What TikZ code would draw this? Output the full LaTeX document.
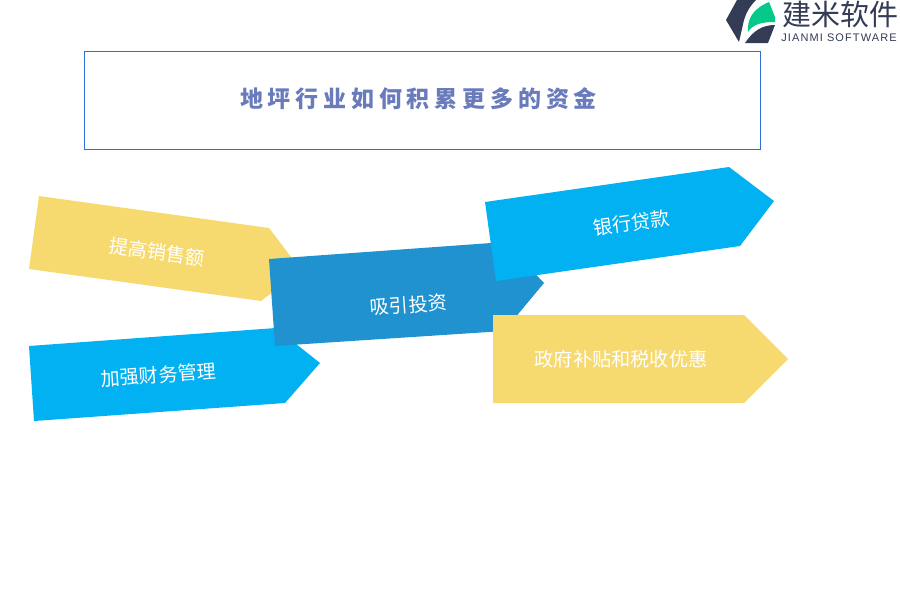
\documentclass[tikz,border=0pt]{standalone}
\usepackage{fontspec}
\setmainfont{Liberation Sans}
\newfontfamily\cjk{Noto Sans CJK SC}
\newfontfamily\cjktitle[LetterSpace=21]{Noto Sans CJK SC}
\definecolor{jmyellow}{HTML}{F6DA70}
\definecolor{jmblue}{HTML}{02B1F2}
\definecolor{jmdeep}{HTML}{2092D0}
\definecolor{jmline}{HTML}{2F6FD8}
\definecolor{jmtitle}{HTML}{6A7BBB}
\definecolor{jmdark}{HTML}{333B55}
\definecolor{jmgreen}{HTML}{05C98A}
\tikzset{arrowlabel/.style={text=white, inner sep=0pt, font=\cjk\fontsize{19.2}{19.2}\selectfont}}
\begin{document}
\begin{tikzpicture}[x=1pt,y=-1pt]
\useasboundingbox (0,0) rectangle (900,600);
\node[draw=jmline, line width=0.8pt, minimum width=676pt, minimum height=98.5pt, inner sep=0pt] (titlebox) at (422,100.5){};
\node[text=jmtitle, inner sep=0pt, font=\cjktitle\bfseries\fontsize{23}{23}\selectfont] (titletext) at (418.5,99){地坪行业如何积累更多的资金};
\fill[jmyellow] (39,196) -- (269,228) -- (301,270) -- (261,301) -- (29,269) -- cycle;
\node[arrowlabel, rotate=-8] (tigao) at (157,252){提高销售额};
\fill[jmblue] (29,346) -- (276,328) -- (320,363) -- (285,403) -- (34,421) -- cycle;
\node[arrowlabel, rotate=4] (jiaqiang) at (158.5,375){加强财务管理};
\fill[jmdeep] (269,259) -- (505,242) -- (544,283) -- (504,331) -- (275,346) -- cycle;
\node[arrowlabel, rotate=4] (xiyin) at (408.5,305){吸引投资};
\fill[jmblue] (485,202) -- (729,167) -- (774,201) -- (740,246) -- (496,281) -- cycle;
\node[arrowlabel, rotate=8] (yinhang) at (631.5,223){银行贷款};
\fill[jmyellow] (493,315) -- (744,315) -- (788,359) -- (744,403) -- (493,403) -- cycle;
\node[arrowlabel] (zhengfu) at (621,359){政府补贴和税收优惠};
% logo
\fill[jmdark] (737,0) -- (756,0) .. controls (750,6) and (746,13) .. (744,20) -- (739,42) -- (726,20) -- cycle;
\fill[jmgreen] (748,32) .. controls (747,20) and (752,9) .. (769,2) -- (775,17) -- (775,22) .. controls (762,22) and (753,24) .. (748,32) -- cycle;
\fill[jmdark] (745,43) -- (768,43) -- (775,25) .. controls (762,25) and (753,31) .. (745,43) -- cycle;
\node[text=jmdark, inner sep=0pt, font=\cjk\fontsize{29}{29}\selectfont] (logoname) at (840,14){建米软件};
\node[text=jmdark, inner sep=0pt, font=\fontsize{11}{11}\selectfont\addfontfeature{LetterSpace=10}] (logosub) at (839,38){JIANMI SOFTWARE};
\end{tikzpicture}
\end{document}
